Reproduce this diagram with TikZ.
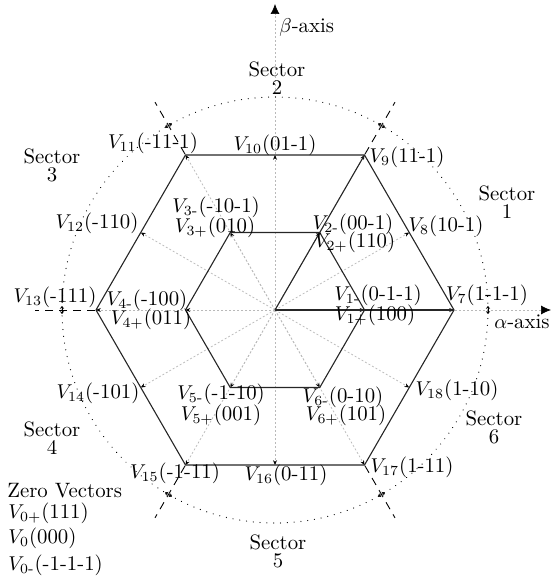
\documentclass[tikz,border=0pt]{standalone}
\usepackage{amsmath}
\usepackage{fontspec}
\usetikzlibrary{arrows.meta,calc}
\begin{document}
\begin{tikzpicture}[x=0.5pt,y=-0.5pt,
  lbl/.style={font=\fontsize{10.4}{9}\selectfont, inner sep=0pt, align=center},
  radial/.style={draw=gray!55, line width=0.35pt, dash pattern=on 1pt off 1pt,
     -{Stealth[length=2.4pt,width=2pt,color=black]}},
  axisline/.style={draw=gray!55, line width=0.35pt, dash pattern=on 1pt off 1pt,
     -{Latex[length=5pt,width=4.5pt,color=black]}},
  hexline/.style={draw=black!85, line width=0.55pt, line join=miter},
  dashline/.style={draw=black, line width=0.45pt, dash pattern=on 4pt off 3pt},
  circline/.style={draw=black, line width=0.6pt, dash pattern=on 0.01pt off 3.4pt, line cap=round},
  cmark/.style={draw=black, line width=0.4pt,
     {Stealth[length=1.4pt,width=2.2pt]}-{Stealth[length=1.4pt,width=2.2pt]}}
]
\path[use as bounding box] (0,0) rectangle (552,582);
\coordinate (O) at (275,310);
\foreach \n/\a in {7/0,9/60,11/120,13/180,15/240,17/300}
  \coordinate (V\n) at ($(O)+(\a:89.5pt)$);
\foreach \n/\a in {8/30,10/90,12/150,14/210,16/270,18/330}
  \coordinate (V\n) at ($(O)+(\a:77.5pt)$);
\foreach \n/\a in {1/0,2/60,3/120,4/180,5/240,6/300}
  \coordinate (V\n) at ($(O)+(\a:44.75pt)$);
\coordinate (Aend) at (551,310);
\coordinate (Bend) at (275,4);

% axes
\draw[axisline] (O) -- (Aend);
\draw[axisline] (O) -- (Bend);

% radial vectors
\foreach \n in {1,...,18} \draw[radial] (O) -- (V\n);

% hexagons and sector-1 triangle
\draw[hexline] (V7) -- (V9) -- (V11) -- (V13) -- (V15) -- (V17) -- cycle;
\draw[hexline] (V1) -- (V2) -- (V3) -- (V4) -- (V5) -- (V6) -- cycle;
\draw[hexline] (O) -- (V7);
\draw[hexline] (O) -- (V9);

% sector boundaries (dashed)
\foreach \a in {60,120,180,240,300}{
  \coordinate (Da\a) at ($(O)+(\a:90pt)$);
  \coordinate (Db\a) at ($(O)+(\a:120pt)$);
  \draw[dashline] (Da\a) -- (Db\a);
}

% dotted circle with markers
\draw[circline] (O) circle[radius=106.5pt];
\foreach \a in {0,60,120,180,240,300}{
  \coordinate (Ma\a) at ($(O)+(\a:106.5pt)+(\a+90:2pt)$);
  \coordinate (Mb\a) at ($(O)+(\a:106.5pt)+(\a-90:2pt)$);
  \draw[cmark] (Ma\a) -- (Mb\a);
}

% labels
\node[lbl,anchor=west] (tb) at (279,28) {$\beta$-axis};
\node[lbl] (s2) at (277,78) {Sector\\2};
\node[lbl] (t11) at (153,143) {$V_{11}$(-11-1)};
\node[lbl] (t10) at (275,145) {$V_{10}$(01-1)};
\node[lbl] (t9) at (407,157) {$V_{9}$(11-1)};
\node[lbl] (s3) at (52,165) {Sector\\3};
\node[lbl] (s1) at (507,202) {Sector\\1};
\node[lbl] (t3m) at (216,207) {$V_{3\text{-}}$(-10-1)};
\node[lbl] (t3p) at (215,227) {$V_{3+}$(010)};
\node[lbl] (t12) at (97,223) {$V_{12}$(-110)};
\node[lbl] (t2m) at (353,224) {$V_{2\text{-}}$(00-1)};
\node[lbl] (t2p) at (355,242) {$V_{2+}$(110)};
\node[lbl] (t8) at (446,226) {$V_{8}$(10-1)};
\node[lbl] (t1m) at (378,295) {$V_{1\text{-}}$(0-1-1)};
\node[lbl] (t1p) at (375,315) {$V_{1+}$(100)};
\node[lbl] (t7) at (487,295) {$V_{7}$(1-1-1)};
\node[lbl] (ta) at (522,322) {$\alpha$-axis};
\node[lbl] (t13) at (55,297) {$V_{13}$(-111)};
\node[lbl] (t4m) at (147,300) {$V_{4\text{-}}$(-100)};
\node[lbl] (t4p) at (151,319) {$V_{4+}$(011)};
\node[lbl] (t14) at (98,393) {$V_{14}$(-101)};
\node[lbl] (t5m) at (221,394) {$V_{5\text{-}}$(-1-10)};
\node[lbl] (t5p) at (221,415) {$V_{5+}$(001)};
\node[lbl] (s4) at (52,438) {Sector\\4};
\node[lbl] (t15) at (175,473) {$V_{15}$(-1-11)};
\node[lbl] (t16) at (286,475) {$V_{16}$(0-11)};
\node[lbl] (t18) at (457,390) {$V_{18}$(1-10)};
\node[lbl] (t6m) at (343,397) {$V_{6\text{-}}$(0-10)};
\node[lbl] (t6p) at (346,415) {$V_{6+}$(101)};
\node[lbl] (s6) at (494,427) {Sector\\6};
\node[lbl] (t17) at (412,467) {$V_{17}$(1-11)};
\node[lbl] (s5) at (278,551) {Sector\\5};
\node[lbl,anchor=west] (z0) at (7,491) {Zero Vectors};
\node[lbl,anchor=west] (z1) at (8,513) {$V_{0+}$(111)};
\node[lbl,anchor=west] (z2) at (8,538) {$V_{0}$(000)};
\node[lbl,anchor=west] (z3) at (8,565) {$V_{0\text{-}}$(-1-1-1)};
\end{tikzpicture}
\end{document}
